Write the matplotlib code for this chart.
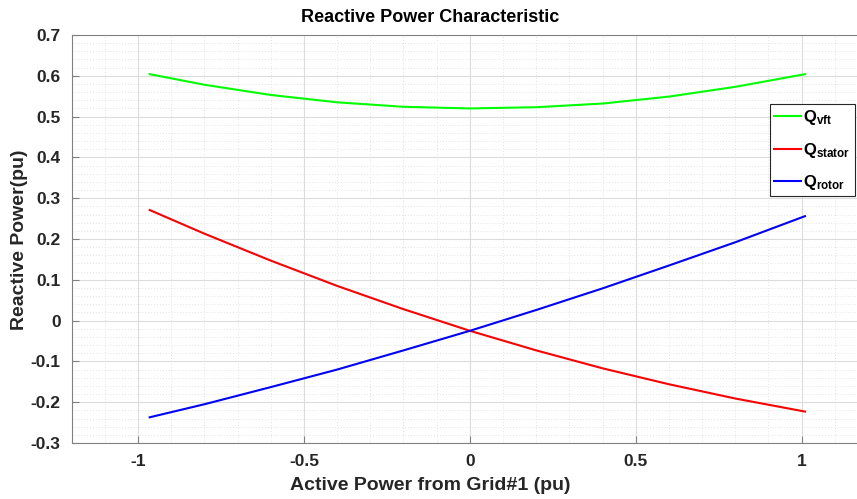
import matplotlib
matplotlib.use("Agg")
import matplotlib.pyplot as plt
from matplotlib.ticker import MultipleLocator

plt.rcParams['font.family'] = ['Liberation Sans', 'DejaVu Sans']
plt.rcParams['mathtext.fontset'] = 'custom'
plt.rcParams['mathtext.rm'] = 'Liberation Sans:bold'
plt.rcParams['mathtext.it'] = 'Liberation Sans:bold'
plt.rcParams['mathtext.bf'] = 'Liberation Sans:bold'

p_active = [-0.965, -0.8, -0.6, -0.4, -0.2, 0.0, 0.2, 0.4, 0.6, 0.8, 1.01]
q_vft = [0.604, 0.578, 0.553, 0.535, 0.524, 0.520, 0.523, 0.532, 0.549, 0.573, 0.604]
q_stator = [0.271, 0.213, 0.147, 0.085, 0.028, -0.025, -0.073, -0.117, -0.156, -0.191, -0.223]
q_rotor = [-0.237, -0.205, -0.163, -0.120, -0.073, -0.025, 0.026, 0.079, 0.135, 0.192, 0.256]
x_ticks = [-1, -0.5, 0, 0.5, 1]
x_ticklabels = ['-1', '-0.5', '0', '0.5', '1']
y_ticks = [-0.3, -0.2, -0.1, 0, 0.1, 0.2, 0.3, 0.4, 0.5, 0.6, 0.7]
y_ticklabels = ['-0.3', '-0.2', '-0.1', '0', '0.1', '0.2', '0.3', '0.4', '0.5', '0.6', '0.7']

fig = plt.figure(figsize=(8.57, 4.99), dpi=100)
ax = fig.add_axes([71.7/857, 56/499, (868-71.7)/857, (443-35)/499])

ax.plot(p_active, q_vft, color='#00ff00', lw=1.5, label=r'$\mathbf{Q_{vft}}$')
ax.plot(p_active, q_stator, color='#ff0000', lw=1.5, label=r'$\mathbf{Q_{stator}}$')
ax.plot(p_active, q_rotor, color='#0000ff', lw=1.5, label=r'$\mathbf{Q_{rotor}}$')

ax.set_xlim(-1.2, 1.2)
ax.set_ylim(-0.3, 0.7)
ax.set_xticks(x_ticks)
ax.set_xticklabels(x_ticklabels)
ax.set_yticks(y_ticks)
ax.set_yticklabels(y_ticklabels)
ax.xaxis.set_minor_locator(MultipleLocator(0.1))
ax.yaxis.set_minor_locator(MultipleLocator(0.02))
ax.grid(which='major', color='#dcdcdc', lw=0.8)
ax.grid(which='minor', color='#e4e4e4', lw=0.7, linestyle=(0, (1, 2)))
ax.set_axisbelow(True)
ax.tick_params(which='major', direction='in', length=5, color='#808080', labelsize=12.5,
               labelcolor='#262626', pad=8)
ax.tick_params(which='minor', length=0)
for lbl in ax.get_xticklabels() + ax.get_yticklabels():
    lbl.set_fontweight('bold')
for s in ['left', 'bottom', 'top']:
    ax.spines[s].set_color('#808080')
ax.spines['right'].set_visible(False)

fig.text(430/857, 1 - 18/499, 'Reactive Power Characteristic', ha='center', va='center',
         fontsize=13, fontweight='bold', color='black')
fig.text(430/857, 1 - 485/499, 'Active Power from Grid#1 (pu)', ha='center', va='center',
         fontsize=14, fontweight='bold', color='#262626')
fig.text(20/857, 1 - 240/499, 'Reactive Power(pu)', ha='center', va='center', rotation=90,
         fontsize=14, fontweight='bold', color='#262626')

leg = ax.legend(loc='upper left', bbox_to_anchor=(770/857, 1 - 104/499), bbox_transform=fig.transFigure,
                fancybox=False, edgecolor='#262626', framealpha=1,
                prop={'weight': 'bold', 'size': 12},
                handlelength=1.6, handletextpad=0.15, borderpad=0.35, labelspacing=0.8,
                borderaxespad=0)
leg._legend_box.sep = 2
leg._legend_box.pad = 3
leg.get_frame().set_linewidth(0.8)

fig.savefig('out.png', dpi=100)
